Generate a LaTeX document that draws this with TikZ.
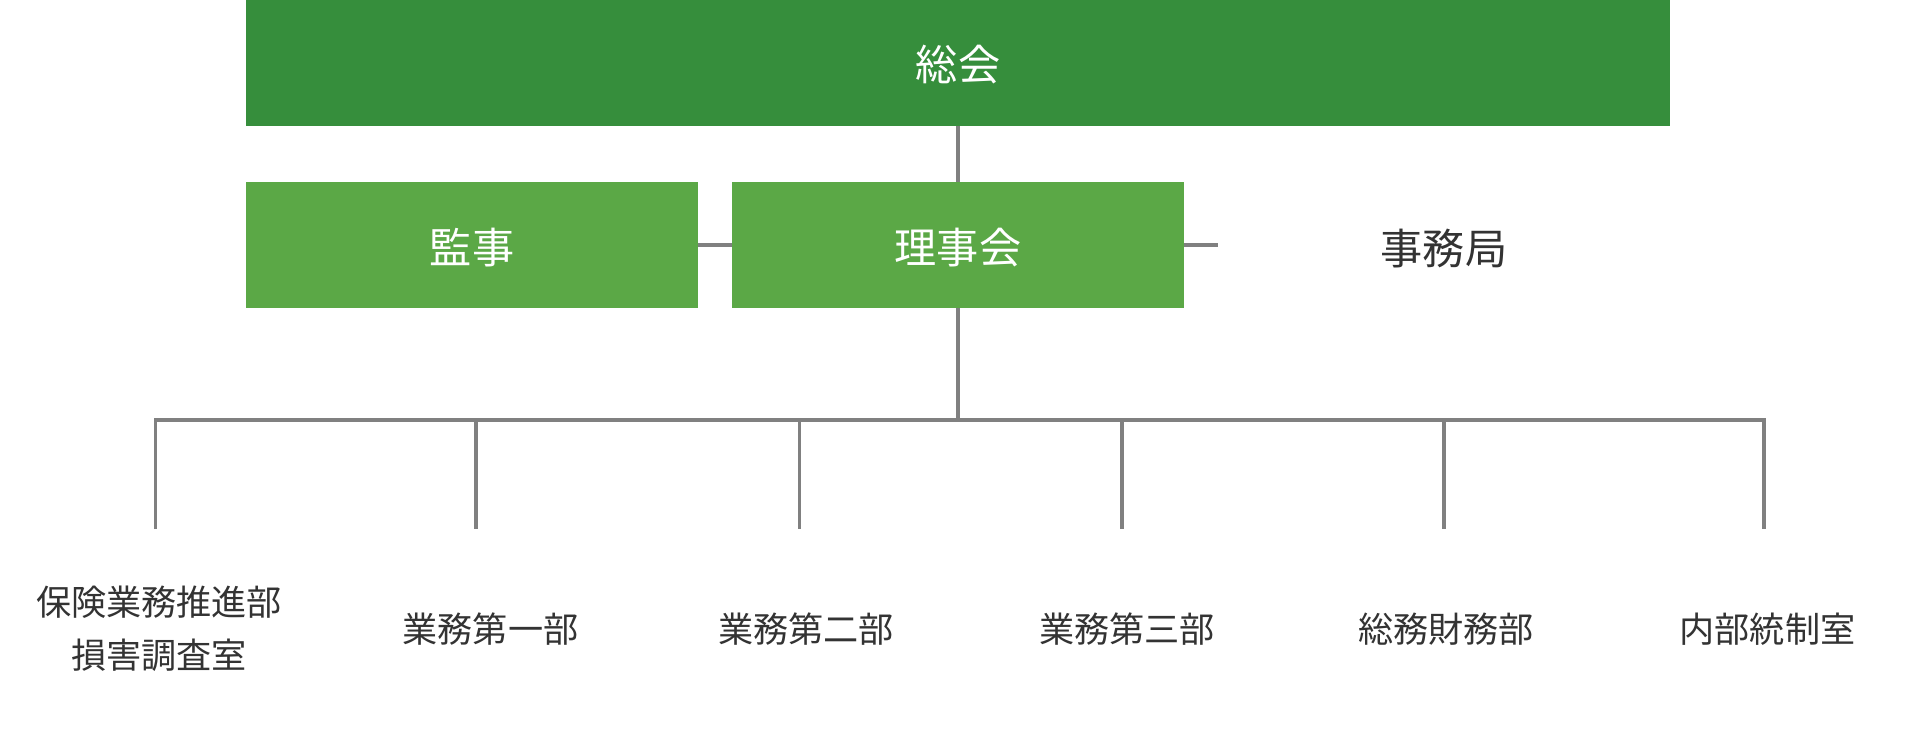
\documentclass[tikz,border=0pt]{standalone}
\usepackage{fontspec}
\setmainfont{Noto Sans CJK JP}
\definecolor{soukaigreen}{HTML}{368E3C}
\definecolor{boxgreen}{HTML}{5BA846}
\definecolor{linkgray}{HTML}{808080}
\definecolor{labelgray}{HTML}{333333}
\begin{document}
\begin{tikzpicture}[x=0.02cm, y=-0.02cm,
    every node/.style={inner sep=0pt, font=\fontsize{24pt}{28pt}\selectfont},
    topbox/.style={fill=soukaigreen, text=white, text height=23pt, text depth=2.5pt, minimum width=28.48cm, minimum height=2.514cm},
    midbox/.style={fill=boxgreen, text=white, text height=23pt, text depth=2.5pt, minimum width=9.04cm, minimum height=2.52cm},
    dept/.style={text=labelgray, align=center, font=\fontsize{20pt}{30.4pt}\selectfont},
    link/.style={draw=linkgray, line width=2.1pt}]
  \useasboundingbox (0,0) rectangle (1920,730);
          \node [topbox] (soukai) at (958,62.85) {総会};
          \node [midbox] (kanji) at (472,245) {監事};
          \node [midbox] (rijikai) at (958,245) {理事会};
          \node [text=labelgray, text height=23pt, text depth=2.5pt] (jimukyoku) at (1444,246) {事務局};
          \coordinate (jimu) at (1218,245);
          \coordinate (bus) at (958,420);
          \coordinate (b1) at (155.5,420);
          \coordinate (b2) at (476,420);
          \coordinate (b3) at (799.6,420);
          \coordinate (b4) at (1121.7,420);
          \coordinate (b5) at (1443.8,420);
          \coordinate (b6) at (1764,420);
          \coordinate (d1) at (155.5,529);
          \coordinate (d2) at (476,529);
          \coordinate (d3) at (799.6,529);
          \coordinate (d4) at (1121.7,529);
          \coordinate (d5) at (1443.8,529);
          \coordinate (d6) at (1764,529);
          \node [dept] (suishin) at (159,629) {保険業務推進部\\損害調査室};
          \node [dept] (gyomu1) at (490.5,629) {業務第一部};
          \node [dept] (gyomu2) at (806,629) {業務第二部};
          \node [dept] (gyomu3) at (1127,629) {業務第三部};
          \node [dept] (soumu) at (1446,629) {総務財務部};
          \node [dept] (naibu) at (1767.5,629) {内部統制室};
          \draw [link] (soukai) -- (rijikai);
          \draw [link] (kanji) -- (rijikai);
          \draw [link] (rijikai) -- (jimu);
          \draw [link] (rijikai) -- (bus);
            \draw [link] (d1) -- (b1) -- (b6) -- (d6);
          \draw [link] (b2) -- (d2);
          \draw [link] (b3) -- (d3);
          \draw [link] (b4) -- (d4);
          \draw [link] (b5) -- (d5);
        \end{tikzpicture}
\end{document}
